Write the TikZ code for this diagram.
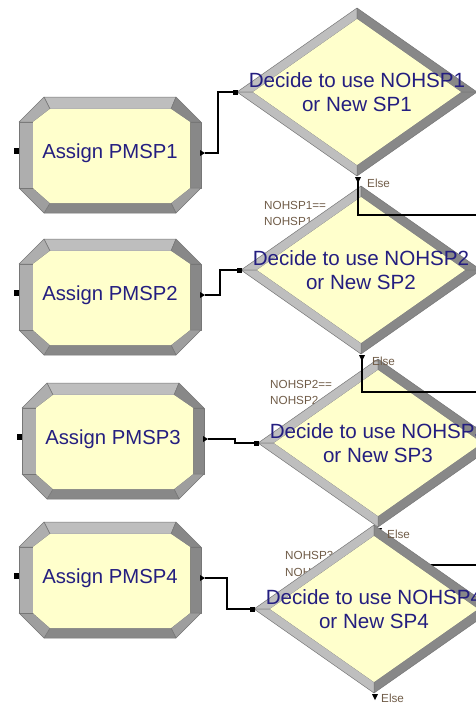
\documentclass[tikz,border=0pt]{standalone}
\usepackage{fontspec}
\setmainfont{Liberation Sans}

\definecolor{fillyel}{RGB}{255,255,204}
\definecolor{bevlt}{RGB}{190,190,190}
\definecolor{bevml}{RGB}{174,174,174}
\definecolor{bevmd}{RGB}{158,158,158}
\definecolor{bevdk}{RGB}{136,136,136}
\definecolor{seam}{RGB}{118,118,118}
\definecolor{labnavy}{RGB}{36,30,128}
\definecolor{labbrown}{RGB}{112,92,72}

\tikzset{
  boxtext/.style={font=\fontsize{20.3}{24}\selectfont, text=labnavy, inner sep=0pt},
  dectext/.style={font=\fontsize{20.6}{24.4}\selectfont, text=labnavy, align=center, inner sep=0pt},
  smalllab/.style={font=\fontsize{11.7}{16}\selectfont, text=labbrown, inner sep=0pt, anchor=west},
  conn/.style={draw=black, line width=1.1pt},
  piece/.style={draw=seam, line width=0.5pt, line join=round},
  portmark/.style={fill=black},
}

% Assign module: bevelled octagon, 182 x 116, centred at (#2,#3)
\newcommand\assignbox[4]{%
  \begin{scope}[shift={(#2,#3)}]
    \path[piece,fill=bevlt] (-66,-58) -- (66,-58) -- (61,-46) -- (-60,-46) -- cycle;   % top
    \path[piece,fill=bevdk] (66,-58) -- (91,-33) -- (80,-33) -- (61,-46) -- cycle;     % top right
    \path[piece,fill=bevdk] (91,-33) -- (91,33) -- (80,33) -- (80,-33) -- cycle;       % right
    \path[piece,fill=bevmd] (91,33) -- (66,58) -- (61,48) -- (80,33) -- cycle;         % bottom right
    \path[piece,fill=bevdk] (66,58) -- (-66,58) -- (-60,48) -- (61,48) -- cycle;       % bottom
    \path[piece,fill=bevmd] (-66,58) -- (-91,33) -- (-77,33) -- (-60,48) -- cycle;     % bottom left
    \path[piece,fill=bevml] (-91,33) -- (-91,-33) -- (-77,-33) -- (-77,33) -- cycle;   % left
    \path[piece,fill=bevml] (-91,-33) -- (-66,-58) -- (-60,-46) -- (-77,-33) -- cycle; % top left
    \path[fill=fillyel] (-60,-46) -- (61,-46) -- (80,-33) -- (80,33) -- (61,48)
         -- (-60,48) -- (-77,33) -- (-77,-33) -- cycle;
    \node[boxtext] (#1) at (0,-2) {#4};
    \coordinate (#1-in) at (-94,-4);
    \coordinate (#1-out) at (95,-2);
    \fill[portmark] (-96.5,-7) rectangle (-91.5,-1);
    \fill[portmark] (90,-5) -- (95,-2) -- (90,1) -- cycle;
  \end{scope}}

% Decide module: bevelled diamond, half-width 120, half-height 84
\newcommand\decide[5]{%
  \begin{scope}[shift={(#2,#3)}]
    \path[piece,fill=bevlt] (-120,0) -- (0,-84) -- (0,-73) -- (-104,0) -- cycle;
    \path[piece,fill=bevdk] (0,-84) -- (120,0) -- (104,0) -- (0,-73) -- cycle;
    \path[piece,fill=bevdk] (120,0) -- (0,84) -- (0,73) -- (104,0) -- cycle;
    \path[piece,fill=bevlt] (0,84) -- (-120,0) -- (-104,0) -- (0,73) -- cycle;
    \path[fill=fillyel] (-104,0) -- (0,-73) -- (104,0) -- (0,73) -- cycle;
    \node[dectext] (#1) at (0,0) {#4\\#5};
    \coordinate (#1-in) at (-122,0);
    \coordinate (#1-else) at (1,88);
    \fill[portmark] (-124.5,-2.5) rectangle (-119.5,2.5);
  \end{scope}}

% downward "Else" exit marker
\newcommand\elsemark[1]{\fill[portmark] ($(#1)+(-3,-3)$) -- ++(6,0) -- ++(-3,6) -- cycle;}

\usetikzlibrary{calc}

\begin{document}
\begin{tikzpicture}[x=1pt,y=-1pt]
  \useasboundingbox (0,0) rectangle (475,705);

  % Assign modules
  \assignbox{b1}{110}{155}{Assign PMSP1}
  \assignbox{b2}{110}{297}{Assign PMSP2}
  \assignbox{b3}{113}{441}{Assign PMSP3}
  \assignbox{b4}{110}{580}{Assign PMSP4}

  % condition labels (partly covered by the next decide module)
  \node[smalllab] (c1a) at (264,205) {NOHSP1==};
  \node[smalllab] (c1b) at (264,221) {NOHSP1};
  \node[smalllab] (c2a) at (270,384) {NOHSP2==};
  \node[smalllab] (c2b) at (270,400) {NOHSP2};
  \node[smalllab] (c3a) at (285,555) {NOHSP3==};
  \node[smalllab] (c3b) at (285,572) {NOHSP3};

  % exits to the right
  \coordinate (d1-exit) at (480,215);
  \coordinate (d2-exit) at (480,392);
  \coordinate (d3-exit) at (480,565);

  \decide{d1}{357}{92}{Decide to use NOHSP1}{or New SP1}
  \decide{d2}{361}{270}{Decide to use NOHSP2}{or New SP2}
  \elsemark{d1-else}
  \draw[conn] (d1-else) |- (d1-exit);
  \decide{d3}{378}{443}{Decide to use NOHSP3}{or New SP3}
  \elsemark{d2-else}
  \draw[conn] (d2-else) |- (d2-exit);
  \elsemark{d3-else}
  \draw[conn] (d3-else) |- (d3-exit);
  \decide{d4}{374}{609}{Decide to use NOHSP4}{or New SP4}
  \elsemark{d4-else}

  % Else labels
  \node[smalllab] (e1) at (367,183) {Else};
  \node[smalllab] (e2) at (372,361) {Else};
  \node[smalllab] (e3) at (387,534) {Else};
  \node[smalllab] (e4) at (381,698) {Else};

  % Assign -> Decide connectors
  \draw[conn] (b1-out) -- ++(13,0) |- (d1-in);
  \draw[conn] (b2-out) -- ++(15,0) |- (d2-in);
  \draw[conn] (b3-out) -- ++(27,0) |- (d3-in);
  \draw[conn] (b4-out) -- ++(22,0) |- (d4-in);
\end{tikzpicture}
\end{document}
